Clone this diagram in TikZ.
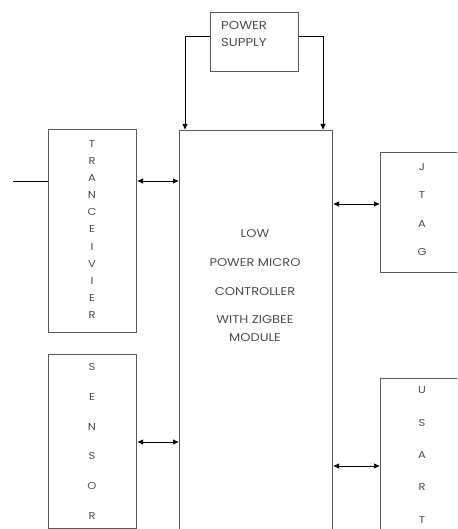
\documentclass[tikz,border=0pt]{standalone}
\usepackage{fontspec}
\setmainfont{Poppins}[FakeStretch=1.15]
\usetikzlibrary{arrows.meta}
\begin{document}
\begin{tikzpicture}[x=1pt,y=-1pt,
  box/.style={draw=black!65, line width=1pt, inner sep=0pt, anchor=north west},
  lbl/.style={text=black!70, align=center, inner sep=0pt},
  conn/.style={draw=black, line width=0.8pt},
  arr/.style={conn, -{Latex[length=6pt,width=5.5pt]}},
  darr/.style={conn, {Latex[length=6pt,width=5.5pt]}-{Latex[length=6pt,width=5.5pt]}}]
\useasboundingbox (0,0) rectangle (457,529);
\clip (0,0) rectangle (457,529);
% boxes
\node[box, minimum width=88pt, minimum height=59pt] (ps) at (210,12) {};
\node[box, minimum width=153pt, minimum height=430pt] (main) at (179,130) {};
\node[box, minimum width=88pt, minimum height=203pt] (trans) at (48,129) {};
\node[box, minimum width=88pt, minimum height=174pt] (sens) at (48,354) {};
\node[box, minimum width=95pt, minimum height=120pt] (jtag) at (380,152) {};
\node[box, minimum width=95pt, minimum height=200pt] (usart) at (380,378) {};
% labels
\node[lbl, align=left, anchor=west, font={\fontsize{11.5}{17}\selectfont}] (pst) at (221,33.5) {POWER\\SUPPLY};
\node[lbl, font={\fontsize{11.3}{18}\selectfont}] (mt) at (255,285.5) {LOW\\[11pt]POWER MICRO\\[11pt]CONTROLLER\\[10pt]WITH ZIGBEE\\MODULE};
\node[lbl, font={\fontsize{10}{17.1}\selectfont}] (tt) at (92,229.5) {T\\R\\A\\N\\C\\E\\I\\V\\I\\E\\R};
\node[lbl, font={\fontsize{10}{29.8}\selectfont}] (st) at (92,441.5) {S\\E\\N\\S\\O\\R};
\node[lbl, font={\fontsize{10}{28.3}\selectfont}] (jt) at (422,209.5) {J\\T\\A\\G};
\node[lbl, font={\fontsize{10}{32.3}\selectfont}] (ut) at (422,455) {U\\S\\A\\R\\T};
% connectors
\draw[arr] (ps.west |- 0,36) -| (main.north -| 185,0);
\draw[arr] (ps.east |- 0,36) -| (main.north -| 323,0);
\coordinate (in) at (13,181);
\draw[conn] (in) -- (trans.west |- in);
\draw[darr] (trans.east |- 0,181) -- (main.west |- 0,181);
\draw[darr] (sens.east |- 0,442) -- (main.west |- 0,442);
\draw[darr] (main.east |- 0,204) -- (jtag.west |- 0,204);
\draw[darr] (main.east |- 0,466) -- (usart.west |- 0,466);
\end{tikzpicture}
\end{document}
